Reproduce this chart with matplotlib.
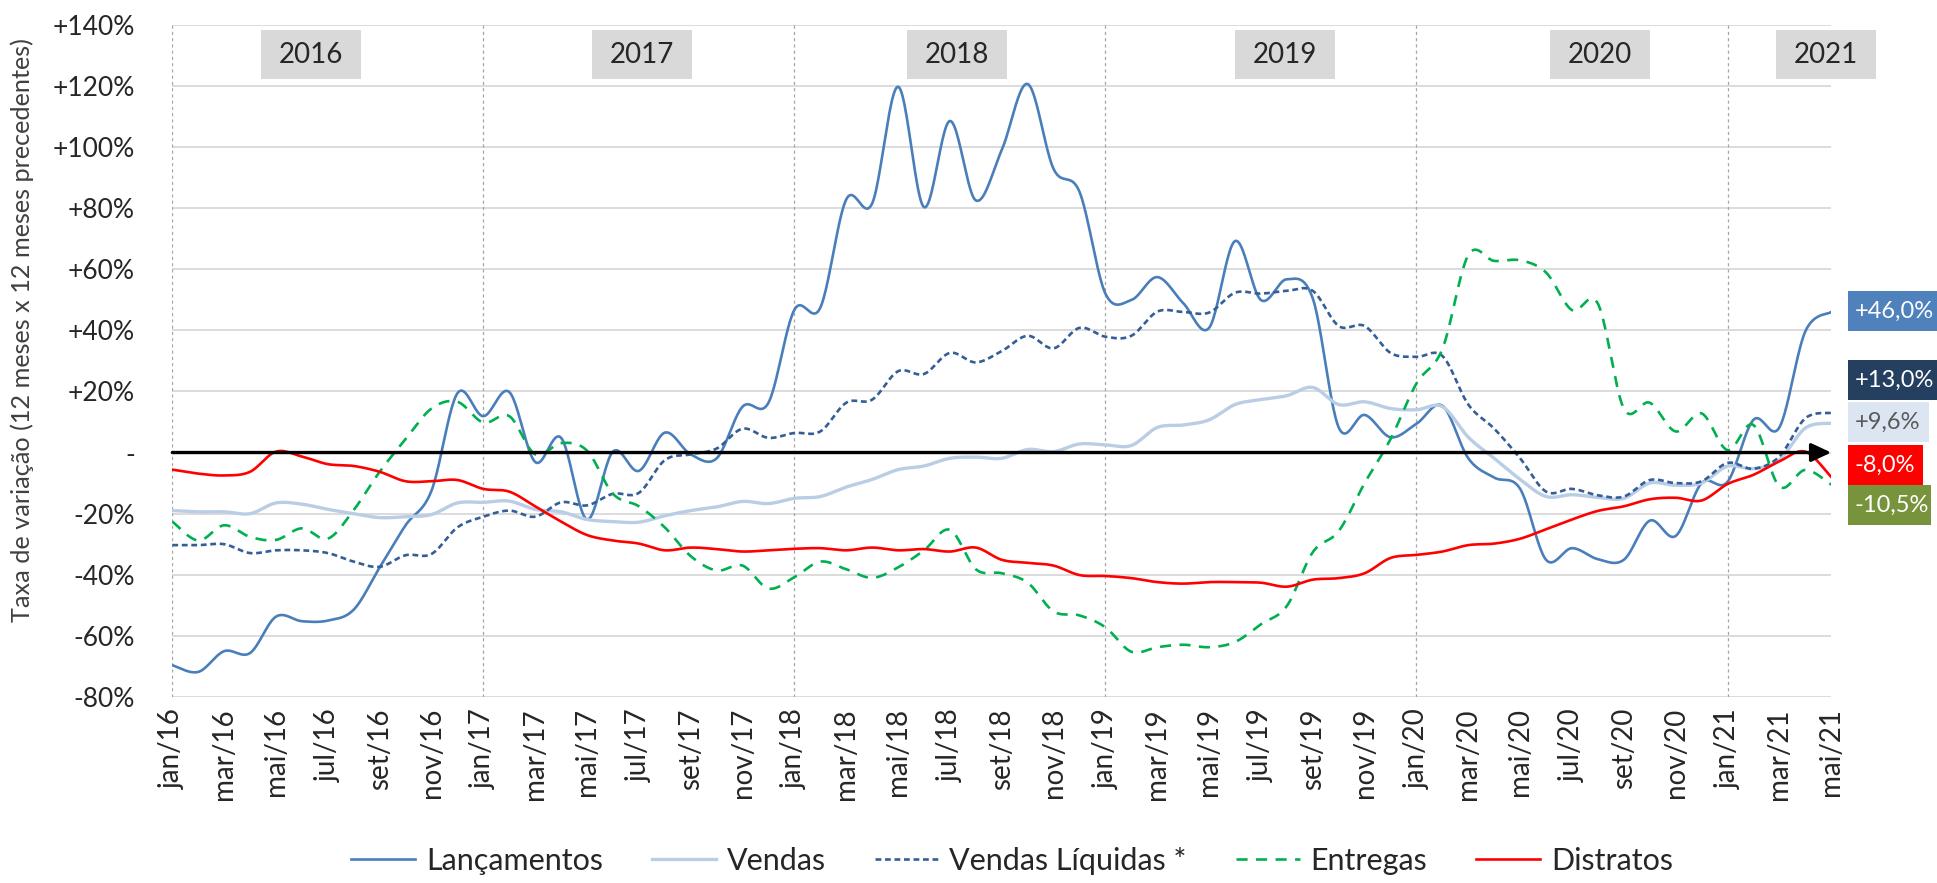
import numpy as np
import matplotlib
matplotlib.use("Agg")
import matplotlib.pyplot as plt
from matplotlib.patches import Rectangle

# ---------------- data ----------------
months_pt = ["jan", "fev", "mar", "abr", "mai", "jun", "jul", "ago", "set", "out", "nov", "dez"]
period_labels = [f"{months_pt[m]}/{y % 100:02d}" for y in range(2016, 2022) for m in range(12)][:65]

lancamentos = [-69.6, -71.8, -65.0, -65.6, -53.7, -55.2, -55.0, -51.4, -37.6, -23.8, -12.5, 19.4,
               11.9, 19.8, -3.1, 4.8, -21.9, 0.3, -6.0, 6.5, -0.6, -1.9, 15.0, 16.3,
               46.7, 47.4, 82.8, 81.5, 119.7, 80.3, 108.5, 82.5, 99.0, 120.6, 92.8, 85.3,
               52.0, 49.9, 57.4, 48.9, 40.8, 69.2, 49.9, 56.7, 50.4, 8.2, 12.3, 5.0,
               9.4, 15.3, -1.9, -8.2, -11.9, -35.1, -31.3, -34.9, -35.1, -22.3, -27.3, -10.0,
               -9.6, 10.7, 8.2, 39.6, 46.0]
vendas = [-19.0, -19.4, -19.4, -20.0, -16.5, -16.9, -18.6, -20.0, -21.3, -21.0, -20.3, -16.5,
          -16.3, -15.9, -18.6, -19.4, -21.9, -22.6, -22.8, -20.7, -19.0, -17.8, -16.0, -16.7,
          -15.0, -14.4, -11.3, -8.8, -5.6, -4.4, -1.9, -1.5, -1.9, 1.0, 0.3, 2.8,
          2.5, 2.3, 8.2, 9.0, 10.7, 15.7, 17.3, 18.6, 21.3, 15.7, 16.6, 14.4,
          14.0, 15.0, 5.0, -1.9, -8.8, -14.4, -13.8, -14.7, -15.0, -10.0, -10.7, -10.0,
          -4.5, -5.3, -2.4, 8.0, 9.6]
vendas_liquidas = [-30.3, -30.3, -30.0, -32.9, -32.0, -32.0, -32.9, -35.7, -37.4, -33.6, -33.2, -24.5,
                   -21.0, -19.0, -21.0, -16.3, -17.3, -13.5, -13.2, -2.5, -0.6, 1.3, 7.8, 4.8,
                   6.4, 6.9, 16.3, 17.3, 26.6, 25.7, 32.6, 29.5, 33.2, 38.2, 34.1, 40.8,
                   37.9, 38.2, 46.1, 46.0, 45.8, 52.3, 52.0, 52.9, 52.9, 41.4, 41.4, 32.6,
                   31.3, 31.6, 15.7, 7.8, -1.9, -12.8, -11.9, -14.0, -14.4, -9.0, -10.0, -9.4,
                   -3.4, -5.3, -1.3, 11.2, 13.0]
entregas = [-22.6, -28.8, -23.8, -27.6, -28.6, -24.8, -28.2, -18.8, -6.3, 4.4, 14.4, 16.6,
            9.8, 11.9, -0.6, 3.1, 0.6, -13.5, -17.6, -24.5, -33.9, -38.6, -37.0, -44.5,
            -40.8, -35.7, -38.2, -41.0, -37.6, -32.0, -25.3, -38.2, -39.5, -42.6, -52.0, -53.3,
            -57.2, -65.2, -63.7, -62.9, -63.7, -62.0, -56.2, -50.2, -32.6, -25.7, -10.0, 4.4,
            22.6, 33.9, 64.6, 62.7, 62.9, 58.9, 46.6, 48.7, 14.4, 16.3, 6.9, 12.8,
            0.8, 9.0, -11.1, -5.7, -10.5]
distratos = [-5.6, -6.9, -7.5, -6.3, 0.3, -1.3, -3.8, -4.4, -6.3, -9.4, -9.4, -9.0,
             -11.9, -12.8, -17.6, -22.6, -27.0, -28.8, -29.8, -32.0, -31.1, -31.6, -32.4, -32.0,
             -31.5, -31.3, -32.0, -31.1, -32.0, -31.6, -32.4, -31.1, -35.1, -36.1, -37.0, -40.1,
             -40.4, -41.1, -42.4, -42.9, -42.4, -42.4, -42.6, -43.9, -41.6, -41.1, -39.5, -34.5,
             -33.5, -32.4, -30.3, -29.8, -28.2, -25.1, -21.9, -19.1, -17.6, -15.3, -14.8, -15.7,
             -10.3, -7.3, -2.9, 0.3, -8.0]

series_names = ["Lançamentos", "Vendas", "Vendas Líquidas *", "Entregas", "Distratos"]
years = ["2016", "2017", "2018", "2019", "2020", "2021"]
y_ticks = [140, 120, 100, 80, 60, 40, 20, 0, -20, -40, -60, -80]

# ---------------- style ----------------
FONT = ["Lato", "DejaVu Sans"]
plt.rcParams["font.family"] = FONT
TXT = "#262626"

def smooth(y, n=24):
    """Excel-like smoothed line (uniform Catmull-Rom / Bezier through the data points)."""
    y = np.asarray(y, float)
    x = np.arange(len(y), dtype=float)
    P = np.concatenate([[y[0]], y, [y[-1]]])
    X = np.concatenate([[x[0]], x, [x[-1]]])
    xs, ys = [], []
    t = np.linspace(0, 1, n, endpoint=False)
    for i in range(1, len(P) - 2):
        p0, p1, p2, p3 = P[i - 1], P[i], P[i + 1], P[i + 2]
        q0, q1, q2, q3 = X[i - 1], X[i], X[i + 1], X[i + 2]
        c1y, c2y = p1 + (p2 - p0) / 6, p2 - (p3 - p1) / 6
        c1x, c2x = q1 + (q2 - q0) / 6, q2 - (q3 - q1) / 6
        b = lambda a0, a1, a2, a3: ((1 - t) ** 3 * a0 + 3 * (1 - t) ** 2 * t * a1
                                    + 3 * (1 - t) * t ** 2 * a2 + t ** 3 * a3)
        xs.append(b(q1, c1x, c2x, q2)); ys.append(b(p1, c1y, c2y, p2))
    xs.append([x[-1]]); ys.append([y[-1]])
    return np.concatenate(xs), np.concatenate(ys)

W, H = 1937, 883
fig = plt.figure(figsize=(W / 100, H / 100), dpi=100)
ax = fig.add_axes([172.3 / W, 1 - 697 / H, 1658.9 / W, 672.3 / H])
n = len(period_labels)
ax.set_xlim(0, n - 1)
ax.set_ylim(-80, 140)

for s in ax.spines.values():
    s.set_visible(False)

# horizontal grid
for v in y_ticks:
    ax.axhline(v, color="#D9D9D9", lw=1.3, zorder=0)
# vertical dashed lines at year starts
for i in range(0, n, 12):
    ax.axvline(i, color="#A6A6A6", lw=0.9, ls=(0, (2.5, 2.5)), zorder=0)

styles = [
    dict(color="#4A7EBB", lw=1.9, ls="-"),
    dict(color="#B9CDE5", lw=2.4, ls="-"),
    dict(color="#335E96", lw=1.9, ls=(0, (2.2, 1.4))),
    dict(color="#00B050", lw=1.9, ls=(0, (4.2, 3.2))),
    dict(color="#FF0000", lw=1.9, ls="-"),
]
data = [lancamentos, vendas, vendas_liquidas, entregas, distratos]
order = [1, 4, 3, 2, 0]
handles = [None] * 5
for k in order:
    xs, ys = smooth(data[k])
    h, = ax.plot(xs, ys, label=series_names[k], zorder=3 + k * 0.1, **styles[k])
    handles[k] = h

# zero arrow
ax.annotate("", xy=(n - 1, 0), xytext=(0, 0),
            arrowprops=dict(arrowstyle="-|>,head_length=0.6,head_width=0.28", lw=2.4,
                            color="black", shrinkA=0, shrinkB=0, mutation_scale=20),
            zorder=5)

# ticks
ax.set_yticks(y_ticks)
ax.set_yticklabels([("+%d%%" % v) if v > 0 else ("-" if v == 0 else "%d%%" % v) for v in y_ticks])
ax.set_xticks(range(0, n, 2))
ax.set_xticklabels(period_labels[::2], rotation=90)
ax.tick_params(axis="both", length=0, colors=TXT)
ax.tick_params(axis="y", pad=27, labelsize=19)
ax.tick_params(axis="x", pad=8, labelsize=20)

fig.text(22 / W, 1 - 330 / H, "Taxa de variação (12 meses x 12 meses precedentes)",
         rotation=90, ha="center", va="center", fontsize=18.2, color="#404040")

# year boxes
year_left = [3.42, 16.19, 28.34, 40.99, 53.15, 61.87]
for yr, x0 in zip(years, year_left):
    ax.add_patch(Rectangle((x0, 122.2), 3.85, 16.1, facecolor="#D9D9D9", edgecolor="none",
                           zorder=4, clip_on=False))
    ax.text(x0 + 3.85 / 2, 130.2, yr, ha="center", va="center", fontsize=20,
            color=TXT, zorder=5, clip_on=False)

# end-value labels
def fmt(v):
    return ("%+.1f%%" % v).replace(".", ",")

end_boxes = [
    (lancamentos[-1], 291, 331, 1937, "#4F81BD", "white"),
    (vendas_liquidas[-1], 360, 400, 1937, "#243F60", "white"),
    (vendas[-1], 402, 442, 1929, "#DCE6F2", "#595959"),
    (distratos[-1], 445, 485, 1923, "#FF0000", "white"),
    (entregas[-1], 485, 525, 1931, "#77933C", "white"),
]
for v, top, bot, right, fc, tc in end_boxes:
    fig.patches.append(Rectangle((1848 / W, 1 - bot / H), (right - 1848) / W, (bot - top) / H,
                                 transform=fig.transFigure, facecolor=fc, edgecolor="none"))
    fig.text(1855 / W, 1 - (top + bot) / 2 / H, fmt(v), ha="left", va="center",
             fontsize=17, color=tc)

leg = fig.legend(handles=handles, labels=series_names, loc="center",
                 bbox_to_anchor=(1012 / W, 1 - 861 / H), ncol=5, frameon=False,
                 fontsize=22, handlelength=2.1, handletextpad=0.35, columnspacing=1.6)
for t in leg.get_texts():
    t.set_color(TXT)

fig.savefig("out.png", dpi=100)
